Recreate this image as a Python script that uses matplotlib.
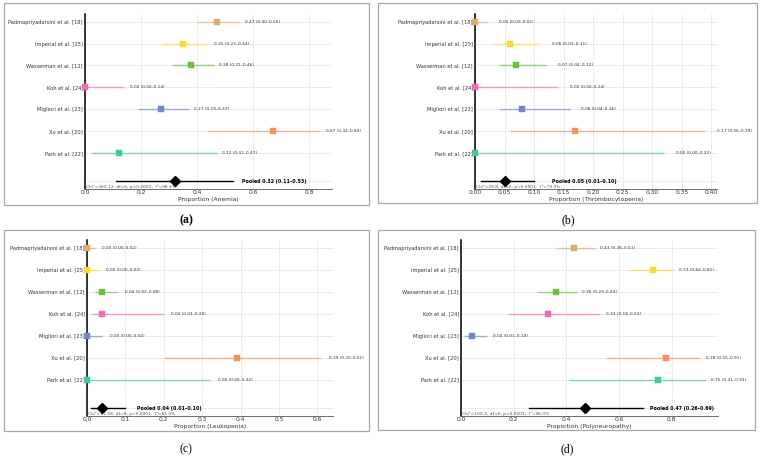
"""Forest plots of adverse event proportions (anemia, thrombocytopenia, leukopenia, polyneuropathy)."""
import numpy as np
import matplotlib
matplotlib.use('Agg')
import matplotlib.pyplot as plt
from matplotlib.patches import Rectangle
from matplotlib.ticker import MultipleLocator, FormatStrFormatter

studies = ["Padmapriyadarsini et al. [18]", "Imperial et al. [25]", "Wasserman et al. [12]",
           "Koh et al. [24]", "Migliori et al. [23]", "Xu et al. [20]", "Park et al. [22]"]
colors = ['#dcab6e', '#ffd92f', '#6cc03c', '#f06ab6', '#7189c4', '#fc8d62', '#3fc9a0']

# (a) anemia
anemia_est = [0.47, 0.35, 0.38, 0.00, 0.27, 0.67, 0.12]
anemia_lo = [0.40, 0.27, 0.31, 0.00, 0.19, 0.44, 0.02]
anemia_hi = [0.55, 0.44, 0.46, 0.14, 0.37, 0.84, 0.47]
anemia_pooled = (0.32, 0.11, 0.53)
anemia_het = "Chi\u00b2=369.12, df=6, p<0.0001,  I\u00b2=98.4%"

# (b) thrombocytopenia
thrombo_est = [0.00, 0.06, 0.07, 0.00, 0.08, 0.17, 0.00]
thrombo_lo = [0.00, 0.03, 0.04, 0.00, 0.04, 0.06, 0.00]
thrombo_hi = [0.02, 0.11, 0.12, 0.14, 0.16, 0.39, 0.32]
thrombo_pooled = (0.05, 0.01, 0.10)
thrombo_het = "Chi\u00b2=29.8, df=6, p<0.0001,  I\u00b2=79.9%"

# (c) leukopenia
leuko_est = [0.00, 0.00, 0.04, 0.04, 0.00, 0.39, 0.00]
leuko_lo = [0.00, 0.00, 0.02, 0.01, 0.00, 0.20, 0.00]
leuko_hi = [0.02, 0.03, 0.08, 0.20, 0.04, 0.61, 0.32]
leuko_pooled = (0.04, 0.01, 0.10)
leuko_het = "Chi\u00b2=31.58, df=6, p<0.0001,  I\u00b2=81.0%"

# (d) polyneuropathy
neuro_est = [0.43, 0.73, 0.36, 0.33, 0.04, 0.78, 0.75]
neuro_lo = [0.36, 0.64, 0.29, 0.18, 0.01, 0.55, 0.41]
neuro_hi = [0.51, 0.81, 0.44, 0.53, 0.10, 0.91, 0.93]
neuro_pooled = (0.47, 0.26, 0.69)
neuro_het = "Chi\u00b2=150.3, df=6, p<0.0001,  I\u00b2=96.0%"

W, H = 760, 457
fig = plt.figure(figsize=(W / 100, H / 100), dpi=100)
fig.patch.set_facecolor('white')

# pixel geometry: axes box (left, top, right, bottom), frame box, label position
panels = [
    ("Anemia", anemia_est, anemia_lo, anemia_hi, anemia_pooled, anemia_het,
     (85, 14, 332, 189), (4, 3, 369, 205), (186, 220), "(a)", 'bold', 0.2, '%.1f'),
    ("Thrombocytopenia", thrombo_est, thrombo_lo, thrombo_hi, thrombo_pooled, thrombo_het,
     (475, 14, 717, 189), (378, 3, 757, 203), (568, 220), "(b)", 'normal', 0.05, '%.2f'),
    ("Leukopenia", leuko_est, leuko_lo, leuko_hi, leuko_pooled, leuko_het,
     (87, 240, 333, 416), (4, 230, 369, 431), (186, 449), "(c)", 'normal', 0.1, '%.1f'),
    ("Polyneuropathy", neuro_est, neuro_lo, neuro_hi, neuro_pooled, neuro_het,
     (461, 240, 718, 416), (378, 230, 755, 430), (567, 449), "(d)", 'normal', 0.2, '%.1f'),
]

for name, est, lo, hi, pooled, het, axbox, frame, labpos, lab, lw8, step, fmt in panels:
    x0, y0, x1, y1 = frame
    fig.patches.append(Rectangle((x0 / W, 1 - y1 / H), (x1 - x0) / W, (y1 - y0) / H,
                                 transform=fig.transFigure, fill=False,
                                 edgecolor='#a8a8a8', linewidth=0.9))
    fig.text(labpos[0] / W, 1 - labpos[1] / H, lab, ha='center', va='center',
             family='Liberation Serif', fontsize=8.5, fontweight=lw8)

    l, t, r, b = axbox
    ax = fig.add_axes([l / W, 1 - b / H, (r - l) / W, (b - t) / H])
    n = len(studies)
    ypos = np.arange(n, 0, -1)
    y_pool = -0.3

    for i in range(n):
        ax.plot([lo[i], hi[i]], [ypos[i], ypos[i]], color=colors[i], lw=1.0,
                alpha=0.65, solid_capstyle='butt', zorder=2)
        ax.plot(est[i], ypos[i], 's', color=colors[i], ms=4.0, mec=colors[i],
                mew=0.3, zorder=4, clip_on=False)
        ax.text(hi[i] + 0.02, ypos[i], f"{est[i]:.2f} ({lo[i]:.2f}\u2013{hi[i]:.2f})",
                fontsize=3.1, va='center', ha='left', color='#333333')

    pe, pl, ph = pooled
    ax.plot([pl, ph], [y_pool, y_pool], color='black', lw=1.0, zorder=3)
    ax.plot(pe, y_pool, 'D', color='black', ms=5, zorder=5)
    ax.text(ph + 0.03, y_pool, f"Pooled {pe:.2f} ({pl:.2f}\u2013{ph:.2f})",
            fontsize=3.4, fontweight='bold', va='center', ha='left')

    xmax = max(hi) * 1.05
    ax.set_xlim(0, xmax)
    ax.set_ylim(-0.65, 7.35)
    ax.xaxis.set_major_locator(MultipleLocator(step))
    ax.xaxis.set_major_formatter(FormatStrFormatter(fmt))
    ax.text(0.003 * xmax, -0.65, het, fontsize=3.2, color='#555555',
            va='bottom', ha='left')

    ax.set_yticks(list(ypos) + [y_pool])
    ax.set_yticklabels(studies + [""], fontsize=3.7)
    ax.tick_params(axis='both', length=0, pad=1.5, colors='#333333')
    ax.tick_params(axis='x', labelsize=4.3, pad=1.0)
    ax.set_xlabel(f"Proportion ({name})", fontsize=4.3, labelpad=1.5, color='#333333')

    ax.grid(True, color='#e3e3e3', linewidth=0.5)
    ax.set_axisbelow(True)
    for s in ('top', 'right'):
        ax.spines[s].set_visible(False)
    ax.spines['left'].set_color('black')
    ax.spines['left'].set_linewidth(1.1)
    ax.spines['bottom'].set_color('#555555')
    ax.spines['bottom'].set_linewidth(0.6)

plt.savefig('out.png', dpi=100)
print("Saved: out.png")
